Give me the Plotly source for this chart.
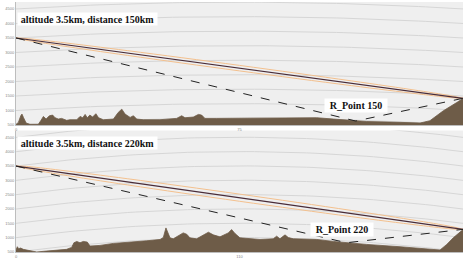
import plotly.graph_objects as go
from plotly.subplots import make_subplots

# ---------------- data ----------------
titles = ["altitude 3.5km, distance 150km", "altitude 3.5km, distance 220km"]
rp_labels = ["R_Point 150", "R_Point 220"]
distances = [150, 220]            # km
tx_alt = [3500, 3500]             # m
rx_alt = [1420, 1290]             # m
reflect_x = [114, 162.7]          # km
reflect_y = [637, 822]            # m

terrain1_x = [0, 0.8, 1.6, 2.0, 2.5, 3.4, 4.7, 7.5, 8.3, 9.2, 10.1, 11.2, 12.3, 13.1, 14.2, 15.3, 17.0, 18.1,
              20.4, 21.5, 22.4, 23.2, 23.9, 24.8, 25.7, 26.8, 27.7, 29.3, 32.7, 34.3, 35.5, 36.6, 38.3, 39.4,
              40.5, 42.7, 48.3, 53.9, 55.6, 56.7, 59.5, 61.2, 62.3, 63.4, 67.3, 84.1, 100.9, 106.5, 114.0,
              117.7, 128.9, 135.6, 138.9, 143.4, 147.9, 150]
terrain1_y = [520, 590, 819, 876, 762, 568, 523, 523, 648, 796, 705, 819, 842, 751, 705, 728, 660, 682,
              682, 796, 751, 865, 751, 842, 774, 888, 751, 682, 705, 933, 1047, 876, 762, 819,
              705, 682, 682, 728, 819, 751, 774, 865, 842, 728, 728, 751, 751, 705, 640,
              620, 591, 568, 648, 990, 1275, 1412]

terrain2_x = [0, 0.66, 1.3, 2.3, 3.6, 5.2, 6.9, 8.5, 10.2, 13.5, 18.4, 24.9, 27.4, 28.5, 29.9, 31.5, 33.1,
              35.1, 36.4, 41.3, 47.9, 57.7, 64.3, 70.9, 72.5, 73.8, 74.6, 75.8, 77.4, 80.7, 82.3, 84.0,
              85.6, 88.9, 92.2, 94.7, 97.1, 100.4, 104.5, 106.1, 107.8, 110.2, 120.1, 126.6, 128.3, 129.9,
              132.4, 134.0, 136.5, 148.0, 156.2, 162.7, 172.6, 189.0, 205.4, 208.7, 212.0, 215.2, 220]
terrain2_y = [569, 684, 615, 638, 592, 569, 546, 523, 500, 523, 546, 592, 661, 822, 868, 822, 868,
              845, 707, 730, 799, 845, 891, 937, 1006, 1340, 1190, 995, 960, 1110, 1167, 1121,
              995, 960, 1075, 1190, 1098, 1029, 1167, 1282, 1144, 995, 937, 960, 1052, 960,
              1098, 1006, 960, 937, 868, 822, 765, 684, 569, 569, 765, 995, 1282]

# Fresnel zone half-width (m)
fresnel1_x = [0, 3, 15, 37.5, 75, 112.5, 135, 147, 150]
fresnel1_w = [0, 27, 57, 82, 95, 82, 57, 27, 0]
fresnel2_x = [0, 4.4, 22, 55, 110, 165, 198, 215.6, 220]
fresnel2_w = [0, 35, 75, 108, 125, 108, 75, 35, 0]

y_ticks = [500, 1000, 1500, 2000, 2500, 3000, 3500, 4000, 4500]
x_ticks = [[0, 75, 150], [0, 110, 220]]
grid_levels = [500, 1000, 1500, 2000, 2500, 3000, 3500, 4000, 4500, 5000]
K_EFF = 12000.0  # km, effective earth radius used for the curved grid

terrains = [(terrain1_x, terrain1_y), (terrain2_x, terrain2_y)]
fresnels = [(fresnel1_x, fresnel1_w), (fresnel2_x, fresnel2_w)]

# ---------------- figure ----------------
fig = make_subplots(rows=2, cols=1, vertical_spacing=0.02)

BROWN = "#6e5c48"
for i in range(2):
    r = i + 1
    D = distances[i]
    # curved grid (earth curvature)
    n = 60
    gx = [D * k / n for k in range(n + 1)]
    for lv in grid_levels:
        gy = [lv + 1000.0 * x * (D - x) / (2 * K_EFF) for x in gx]
        fig.add_trace(go.Scatter(x=gx, y=gy, mode="lines", line=dict(color="#d6d6d6", width=1),
                                 hoverinfo="skip", showlegend=False), row=r, col=1)
    # terrain
    tx, ty = terrains[i]
    fig.add_trace(go.Scatter(x=tx, y=ty, mode="lines", fill="tozeroy", fillcolor=BROWN,
                             line=dict(color=BROWN, width=0.8), showlegend=False), row=r, col=1)
    # fresnel lines
    fx, fw = fresnels[i]
    los = [tx_alt[i] + (rx_alt[i] - tx_alt[i]) * x / D for x in fx]
    fig.add_trace(go.Scatter(x=fx, y=[a + w for a, w in zip(los, fw)], mode="lines",
                             line=dict(color="#f3c08e", width=1, shape="spline"), showlegend=False), row=r, col=1)
    fig.add_trace(go.Scatter(x=fx, y=[a - w for a, w in zip(los, fw)], mode="lines",
                             line=dict(color="#f3c08e", width=1, shape="spline"), showlegend=False), row=r, col=1)
    # direct line of sight
    fig.add_trace(go.Scatter(x=[0, D], y=[tx_alt[i], rx_alt[i]], mode="lines",
                             line=dict(color="#4a2c38", width=1.2), showlegend=False), row=r, col=1)
    # reflected path
    fig.add_trace(go.Scatter(x=[0, reflect_x[i], D], y=[tx_alt[i], reflect_y[i], rx_alt[i]], mode="lines",
                             line=dict(color="#222222", width=1, dash="dash"), showlegend=False), row=r, col=1)

axis_font = dict(family="Liberation Sans", size=4, color="#888888")
# plot area: x 16..463 px, y 2..252 px
domains_y = [[0.508, 1.0], [0.0, 0.486]]
for i in range(2):
    sfx = "" if i == 0 else "2"
    fig.layout["xaxis" + sfx].update(range=[0, distances[i]], domain=[0, 1], automargin=False,
                                     tickvals=x_ticks[i], ticktext=[str(v) for v in x_ticks[i]],
                                     tickfont=axis_font, showgrid=False, zeroline=False,
                                     showline=True, linecolor="#bdbdbd", linewidth=1,
                                     ticks="", ticklen=2)
    fig.layout["yaxis" + sfx].update(range=[500, 4740], domain=domains_y[i], automargin=False,
                                     tickvals=y_ticks, ticktext=[str(v) for v in y_ticks],
                                     tickfont=axis_font, showgrid=False, zeroline=False,
                                     showline=True, linecolor="#bdbdbd", linewidth=1,
                                     ticks="", ticklen=2)

title_pos = [(0.16, 0.863), (0.16, 0.894)]
rp_pos = [(0.761, 0.157), (0.730, 0.183)]
font_lbl = dict(family="Liberation Serif", size=10, color="#111111")
annotations = []
for i in range(2):
    sfx = "" if i == 0 else "2"
    annotations.append(dict(text="<b>%s</b>" % titles[i], xref="x%s domain" % sfx, yref="y%s domain" % sfx,
                            x=title_pos[i][0], y=title_pos[i][1], showarrow=False, font=font_lbl,
                            bgcolor="white", width=139, height=12, borderpad=0, xanchor="center",
                            yanchor="middle"))
    annotations.append(dict(text="<b>%s</b>" % rp_labels[i], xref="x%s domain" % sfx, yref="y%s domain" % sfx,
                            x=rp_pos[i][0], y=rp_pos[i][1], showarrow=False, font=font_lbl,
                            bgcolor="white", width=62, height=13, borderpad=0, xanchor="center",
                            yanchor="middle"))
fig.update_layout(annotations=annotations, width=465, height=258,
                  margin=dict(l=16, r=2, t=2, b=6, autoexpand=False), paper_bgcolor="white",
                  plot_bgcolor="#efefef", showlegend=False)

fig.write_html("out.html", config={"displayModeBar": False},
               post_script="document.body.style.margin='0px';")
